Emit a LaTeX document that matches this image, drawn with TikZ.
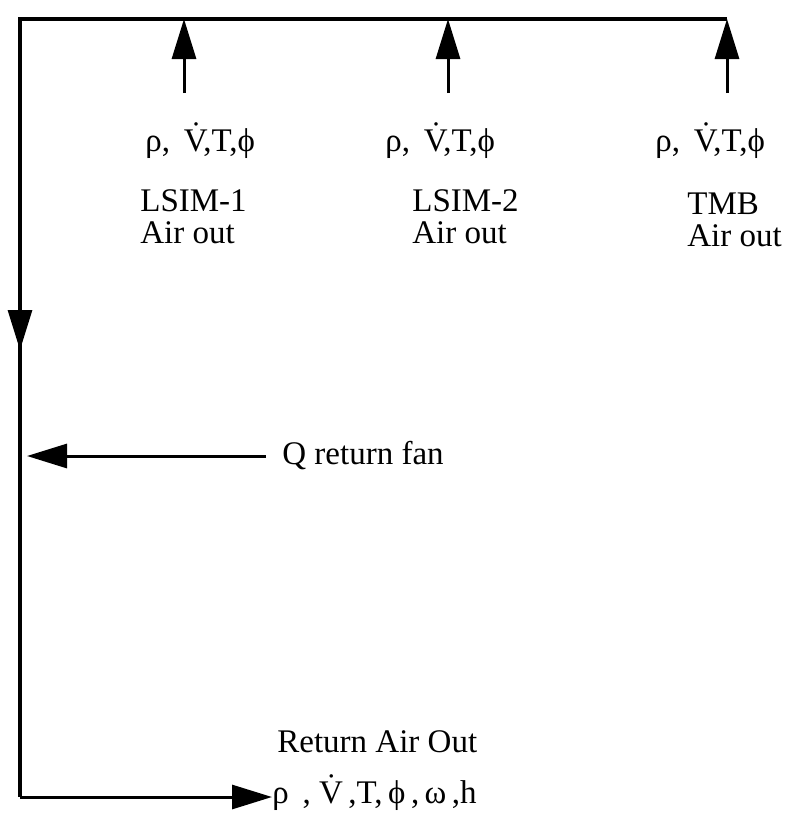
\documentclass[tikz,border=0pt]{standalone}
\usepackage{fontspec}
\setmainfont{Liberation Serif}
\usetikzlibrary{arrows.meta}
\usetikzlibrary{positioning}

\begin{document}
\begin{tikzpicture}[x=0.5pt, y=-0.5pt,
    flow/.style={-{Triangle[length=20pt,width=12pt]}, line width=1.5pt},
    duct/.style={line width=1.6pt},
    lbl/.style={text=black, font=\fontsize{16.5}{16}\selectfont, align=left, inner sep=0pt, anchor=base west}]
    \useasboundingbox (0,0) rectangle (784,815);

    % corners and junctions of the return duct
    \coordinate (tl) at (20,19);
    \coordinate (j1) at (184,19);
    \coordinate (j2) at (448,19);
    \coordinate (j3) at (727,19);
    \coordinate (bl) at (20,797);
    \coordinate (ldown) at (20,350);

    % free ends of the inlet arrows
    \coordinate (s1) at (184,93);
    \coordinate (s2) at (448,93);
    \coordinate (s3) at (727,93);

    \node[lbl] (rv1) at (145,151) {ρ,\, \.V,T,ϕ};
    \node[lbl] (rv2) at (385,151) {ρ,\, \.V,T,ϕ};
    \node[lbl] (rv3) at (655,151) {ρ,\, \.V,T,ϕ};

    % base anchor of a two line node sits on its last line
    \node[lbl] (lsim1) at (140,243) {LSIM-1\\Air out};
    \node[lbl] (lsim2) at (412,243) {LSIM-2\\Air out};
    \node[lbl] (tmb) at (687,246) {TMB\\Air out};

    \node[lbl, anchor=west] (qfan) at (282,456) {Q return fan};

    \node[lbl] (ret) at (277,752) {Return Air Out};
    \node[lbl] (rout) at (272,803) {ρ\, , \.V\,,T,\,ϕ\,,\,ω\,,h};

    \draw[duct] (j3) -- (tl) -- (bl);
    \draw[flow] (tl) -- (ldown);
    \draw[flow] (bl) -- (bl -| rout.west);

    \draw[flow] (s1) -- (j1);
    \draw[flow] (s2) -- (j2);
    \draw[flow] (s3) -- (j3);

    \draw[flow, shorten >=3.5pt] (qfan.west) ++(-16,0) -- (qfan.west -| tl);

  \end{tikzpicture}
\end{document}
